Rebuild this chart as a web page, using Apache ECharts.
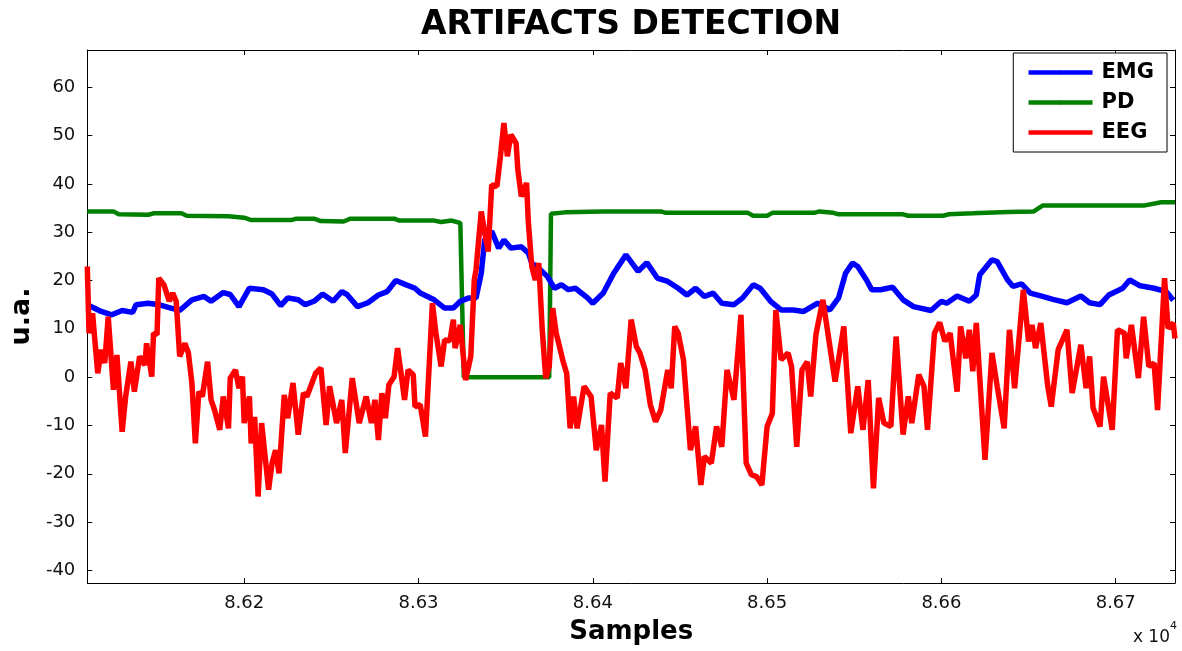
<!DOCTYPE html>
<html lang="en">
<head>
    <meta charset="UTF-8">
    <title>Artifacts detection</title>
    <script type="text/javascript" src="https://cdn.jsdelivr.net/npm/echarts@6/dist/echarts.min.js"></script>
    <style>
        html, body { margin: 0; padding: 0; background: #fff; }
    </style>
</head>
<body>
    <div id="main" style="width: 1182px; height: 651px"></div>
    <script type="text/javascript">
        // samples (x) and u.a. values
        var xTicks = [86200, 86300, 86400, 86500, 86600, 86700];
        var yTicks = [-40, -30, -20, -10, 0, 10, 20, 30, 40, 50, 60];

        var emg = [
            [86110, 15.0], [86118, 13.6], [86124, 12.9], [86130, 13.8], [86136, 13.4], [86138, 15.0],
            [86145, 15.3], [86151, 15.0], [86158, 14.3], [86163, 13.8], [86170, 16.0], [86177, 16.7],
            [86181, 15.7], [86188, 17.5], [86192, 17.1], [86197, 14.6], [86203, 18.4], [86211, 18.1],
            [86216, 17.2], [86221, 14.8], [86225, 16.4], [86231, 16.0], [86235, 15.0], [86240, 15.7],
            [86245, 17.2], [86251, 15.7], [86256, 17.7], [86259, 17.1], [86265, 14.6], [86271, 15.4],
            [86277, 17.0], [86282, 17.7], [86287, 20.0], [86293, 19.1], [86298, 18.4], [86301, 17.4],
            [86309, 16.0], [86315, 14.3], [86320, 14.3], [86324, 15.7], [86329, 16.4], [86333, 16.4],
            [86336, 21.5], [86338, 28.4], [86342, 30.2], [86346, 26.7], [86349, 28.4], [86353, 26.7],
            [86359, 27.0], [86363, 25.7], [86365, 23.6], [86370, 22.2], [86374, 20.8], [86378, 18.4],
            [86382, 19.1], [86386, 18.1], [86390, 18.4], [86397, 16.4], [86400, 15.3], [86406, 17.4],
            [86412, 21.5], [86419, 25.3], [86426, 21.9], [86431, 23.7], [86437, 20.5], [86443, 19.8],
            [86449, 18.4], [86454, 17.0], [86459, 18.4], [86464, 16.7], [86469, 17.4], [86474, 15.3],
            [86481, 15.0], [86486, 16.4], [86492, 19.1], [86496, 18.4], [86502, 15.7], [86508, 13.9],
            [86515, 13.9], [86521, 13.6], [86529, 15.3], [86536, 13.9], [86541, 16.4], [86545, 21.5],
            [86549, 23.6], [86552, 22.9], [86557, 20.1], [86560, 18.1], [86565, 18.1], [86572, 18.6],
            [86578, 16.0], [86584, 14.6], [86594, 13.8], [86600, 15.7], [86603, 15.3], [86609, 16.8],
            [86616, 15.7], [86620, 17.0], [86622, 21.2], [86629, 24.3], [86632, 23.9], [86638, 20.1],
            [86641, 18.8], [86646, 19.3], [86651, 17.4], [86658, 16.7], [86664, 16.1], [86672, 15.4],
            [86680, 16.8], [86685, 15.4], [86691, 15.0], [86696, 17.0], [86704, 18.4], [86708, 20.1],
            [86714, 18.9], [86722, 18.4], [86729, 17.7], [86733, 15.9]
        ];

        var pd = [
            [86110, 34.3], [86125, 34.3], [86128, 33.7], [86145, 33.6], [86148, 33.9], [86164, 33.9],
            [86167, 33.4], [86191, 33.3], [86200, 33.0], [86204, 32.5], [86227, 32.5], [86230, 32.8],
            [86240, 32.8], [86244, 32.3], [86257, 32.2], [86261, 32.8], [86286, 32.8], [86289, 32.4],
            [86309, 32.4], [86313, 32.1], [86319, 32.4], [86324, 31.9], [86326, 0], [86375, 0],
            [86376, 33.8], [86384, 34.1], [86406, 34.3], [86439, 34.3], [86442, 34.0], [86489, 34.0],
            [86492, 33.4], [86500, 33.4], [86503, 34.0], [86527, 34.0], [86530, 34.3], [86538, 34.0],
            [86541, 33.7], [86578, 33.7], [86581, 33.4], [86601, 33.4], [86604, 33.7], [86618, 33.9],
            [86638, 34.2], [86653, 34.3], [86658, 35.5], [86716, 35.5], [86726, 36.2], [86734, 36.2]
        ];

        var eeg = [
            [86110, 22.9], [86111, 9.1], [86113, 13.2], [86116, 0.8], [86118, 5.7], [86120, 2.9],
            [86122, 12.5], [86125, -2.6], [86127, 4.6], [86130, -11.3], [86132, -4.0], [86135, 3.2],
            [86137, -3.0], [86140, 4.3], [86143, 2.5], [86144, 7.0], [86147, 0.1], [86148, 9.1],
            [86150, 8.8], [86151, 20.5], [86154, 19.1], [86157, 15.7], [86159, 17.4], [86161, 15.7],
            [86163, 4.3], [86166, 7.0], [86168, 5.0], [86170, -1.2], [86172, -13.7], [86174, -3.0],
            [86176, -4.0], [86179, 3.2], [86181, -4.7], [86183, -6.8], [86186, -10.9], [86188, -4.0],
            [86191, -10.6], [86192, -0.2], [86195, 1.5], [86197, -2.3], [86199, 0.1], [86200, -9.5],
            [86203, -4.0], [86204, -13.7], [86206, -8.2], [86208, -24.7], [86210, -9.5], [86214, -23.3],
            [86216, -17.8], [86218, -15.1], [86220, -19.9], [86223, -3.7], [86225, -8.5], [86228, -1.2],
            [86231, -11.9], [86234, -3.3], [86236, -4.0], [86241, 0.8], [86244, 1.9], [86247, -9.9],
            [86249, -1.9], [86253, -9.5], [86256, -4.7], [86258, -15.7], [86262, -0.2], [86266, -9.5],
            [86270, -4.0], [86273, -9.5], [86275, -4.7], [86277, -13.0], [86279, -3.3], [86281, -8.5],
            [86283, -1.6], [86286, 0.1], [86288, 6.0], [86290, 0.8], [86292, -4.7], [86294, 1.5],
            [86297, 0.5], [86298, -6.1], [86301, -5.7], [86304, -12.3], [86308, 15.3], [86310, 9.1],
            [86313, 2.2], [86315, 7.7], [86318, 7.5], [86320, 11.9], [86321, 6.0], [86324, 10.8],
            [86327, -0.6], [86330, 4.3], [86332, 20.1], [86333, 22.2], [86336, 34.3], [86338, 29.8],
            [86340, 26.0], [86342, 39.8], [86345, 39.5], [86347, 45.7], [86349, 52.6], [86351, 45.7],
            [86353, 50.2], [86356, 48.4], [86357, 42.9], [86359, 37.4], [86362, 40.2], [86363, 32.2],
            [86365, 22.9], [86367, 20.1], [86369, 23.6], [86371, 9.8], [86373, -0.2], [86375, 2.2],
            [86377, 14.3], [86379, 9.1], [86383, 3.2], [86385, 0.8], [86387, -10.6], [86389, -4.0],
            [86391, -10.6], [86395, -1.9], [86399, -4.0], [86402, -15.1], [86405, -9.9], [86407, -21.6],
            [86410, -3.3], [86414, -4.3], [86416, 2.9], [86419, -2.3], [86422, 11.9], [86425, 6.3],
            [86427, 5.0], [86430, 1.5], [86433, -5.7], [86436, -9.2], [86439, -6.8], [86443, 1.5],
            [86445, -2.3], [86447, 10.5], [86449, 9.1], [86452, 3.6], [86456, -15.1], [86459, -10.2],
            [86462, -22.3], [86464, -16.4], [86468, -17.8], [86471, -10.2], [86474, -14.4], [86477, 1.5],
            [86481, -4.7], [86485, 12.9], [86488, -17.8], [86491, -20.2], [86494, -20.6], [86497, -22.3],
            [86500, -10.2], [86503, -7.5], [86505, 13.9], [86508, 3.6], [86512, 5.0], [86514, 2.2],
            [86517, -14.4], [86520, 1.5], [86523, 3.2], [86525, -4.0], [86528, 8.8], [86532, 16.0],
            [86534, 11.2], [86539, -0.9], [86544, 10.5], [86548, -11.6], [86552, -1.9], [86555, -10.9],
            [86558, -0.6], [86561, -23.0], [86564, -4.3], [86567, -9.5], [86571, -10.2], [86574, 8.4],
            [86578, -11.9], [86581, -4.0], [86583, -9.5], [86587, 0.5], [86590, -1.9], [86592, -10.9],
            [86596, 9.1], [86599, 11.3], [86602, 7.4], [86605, 9.1], [86609, -3.0], [86611, 10.5],
            [86614, 3.9], [86616, 9.8], [86618, 1.2], [86620, 11.2], [86625, -17.1], [86629, 5.0],
            [86632, -1.9], [86636, -10.6], [86639, 9.8], [86642, -2.3], [86647, 18.1], [86650, 7.4],
            [86652, 10.8], [86654, 6.0], [86657, 11.2], [86661, -1.9], [86663, -6.1], [86667, 5.7],
            [86672, 9.8], [86675, -3.3], [86680, 6.7], [86683, -2.3], [86685, 4.3], [86687, -6.4],
            [86691, -10.2], [86693, 0.1], [86698, -10.9], [86701, 9.8], [86705, 9.1], [86706, 3.9],
            [86709, 10.8], [86713, -0.2], [86716, 12.5], [86719, 2.2], [86722, 2.9], [86724, -6.8],
            [86728, 20.5], [86730, 10.1], [86733, 11.2], [86734, 8.0]
        ];

        var font = 'DejaVu Sans';
        var xMin = 86110, xMax = 86734, yMin = -42.6, yMax = 67.7;

        var myChart = echarts.init(document.getElementById('main'));

        // ticks-only axes on top and right, like the matlab box
        function frameAxis(pos, isX) {
            return {
                type: 'value',
                position: pos,
                min: isX ? xMin : yMin,
                max: isX ? xMax : yMax,
                axisLine: { show: true, onZero: false, lineStyle: { color: '#000', width: 1 } },
                axisTick: { show: true, inside: true, length: 5, customValues: isX ? xTicks : yTicks,
                    lineStyle: { color: '#000' } },
                axisLabel: { show: false },
                splitLine: { show: false }
            };
        }

        myChart.setOption({
            animation: false,
            title: {
                text: 'ARTIFACTS DETECTION',
                left: 416,
                top: 4,
                textStyle: { fontFamily: font, fontSize: 33, fontWeight: 'bold', color: '#000' }
            },
            grid: { left: 86, right: 7, top: 50, bottom: 68 },
            legend: {
                orient: 'vertical',
                right: 15,
                top: 53,
                padding: [9, 13, 9, 13],
                itemGap: 9,
                itemWidth: 64,
                itemHeight: 5,
                lineStyle: { width: 4.5 },
                borderColor: '#000',
                borderWidth: 1,
                backgroundColor: '#fff',
                textStyle: { fontFamily: font, fontSize: 21, fontWeight: 'bold', color: '#000', padding: [0, 0, 0, 4] },
                data: ['EMG', 'PD', { name: 'EEG', icon: 'path://M0,0H64V4.5H0Z' }]
            },
            xAxis: [{
                type: 'value',
                position: 'bottom',
                min: xMin,
                max: xMax,
                name: 'Samples',
                nameLocation: 'middle',
                nameGap: 36,
                nameTextStyle: { fontFamily: font, fontSize: 26, fontWeight: 'bold', color: '#000' },
                axisLine: { show: true, onZero: false, lineStyle: { color: '#000', width: 1 } },
                axisTick: { show: true, inside: true, length: 5, customValues: xTicks, lineStyle: { color: '#000' } },
                axisLabel: {
                    customValues: xTicks,
                    margin: 11,
                    fontFamily: font,
                    fontSize: 18,
                    color: '#111',
                    formatter: function (v) { return (v / 10000).toFixed(2); }
                },
                splitLine: { show: false }
            }, frameAxis('top', true)],
            yAxis: [{
                type: 'value',
                position: 'left',
                min: yMin,
                max: yMax,
                name: 'u.a.',
                nameLocation: 'middle',
                nameRotate: 90,
                nameGap: 34,
                nameTextStyle: { fontFamily: font, fontSize: 27, fontWeight: 'bold', color: '#000' },
                axisLine: { show: true, onZero: false, lineStyle: { color: '#000', width: 1 } },
                axisTick: { show: true, inside: true, length: 5, customValues: yTicks, lineStyle: { color: '#000' } },
                axisLabel: {
                    customValues: yTicks,
                    margin: 12,
                    fontFamily: font,
                    fontSize: 18,
                    color: '#111'
                },
                splitLine: { show: false }
            }, frameAxis('right', false)],
            graphic: [{
                type: 'text',
                right: 12,
                top: 629,
                style: { text: 'x 10', fontFamily: font, fontSize: 17, fill: '#111' }
            }, {
                type: 'text',
                right: 5,
                top: 621,
                style: { text: '4', fontFamily: font, fontSize: 11, fill: '#111' }
            }],
            series: [{
                name: 'EMG',
                type: 'line',
                data: emg,
                symbol: 'circle',
                symbolSize: 5,
                showSymbol: false,
                color: '#0000ff',
                lineStyle: { width: 5.5, color: '#0000ff' },
                z: 3
            }, {
                name: 'PD',
                type: 'line',
                data: pd,
                symbol: 'circle',
                symbolSize: 5,
                showSymbol: false,
                color: '#008000',
                lineStyle: { width: 4.5, color: '#008000' },
                z: 2
            }, {
                name: 'EEG',
                type: 'line',
                data: eeg,
                symbol: 'none',
                color: '#ff0000',
                lineStyle: { width: 5.5, color: '#ff0000' },
                z: 4
            }]
        });
    </script>
</body>
</html>
